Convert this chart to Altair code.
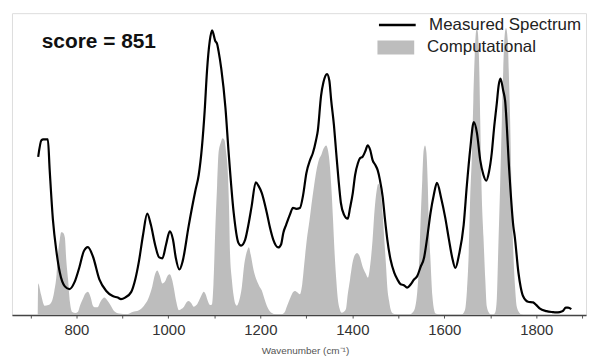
import altair as alt
import pandas as pd

# Measured spectrum (wavenumber, normalized intensity)
meas_wn = [717, 724, 728, 738, 742, 749, 757, 764, 775, 785, 796, 807, 816, 825, 836, 850, 865, 879, 890, 897,
           906, 919, 928, 936, 945, 954, 962, 971, 980, 987, 995, 1003, 1010, 1016, 1024, 1031, 1044, 1059, 1066, 1073,
           1079, 1084, 1090, 1095, 1102, 1106, 1109, 1115, 1124, 1131, 1142, 1152, 1158, 1167, 1174, 1181, 1190, 1196,
           1203, 1214, 1221, 1228, 1239, 1245, 1250, 1256, 1264, 1271, 1278, 1286, 1293, 1300, 1308, 1314, 1321, 1325,
           1332, 1337, 1345, 1350, 1354, 1360, 1365, 1370, 1375, 1382, 1390, 1395, 1401, 1406, 1412, 1417, 1422, 1429,
           1433, 1439, 1444, 1450, 1455, 1460, 1466, 1471, 1476, 1483, 1491, 1498, 1505, 1512, 1519, 1527, 1534, 1541,
           1548, 1556, 1563, 1570, 1577, 1584, 1593, 1602, 1610, 1617, 1624, 1632, 1642, 1649, 1656, 1664, 1671, 1678,
           1685, 1691, 1697, 1703, 1708, 1714, 1718, 1722, 1728, 1732, 1741, 1750, 1753, 1761, 1766, 1771, 1782, 1793,
           1800, 1807, 1822, 1835, 1843, 1851, 1858, 1864, 1869, 1876]
meas_int = [.524, .579, .582, .582, .480, .316, .207, .141, .095, .086, .109, .161, .211, .225, .194, .118, .080, .063, .058, .053,
            .058, .076, .118, .178, .266, .336, .299, .234, .191, .188, .234, .277, .250, .191, .151, .178, .294, .414, .464, .557,
            .678, .809, .908, .943, .908, .898, .875, .816, .688, .539, .339, .240, .230, .250, .299, .360, .440, .428,
            .405, .339, .289, .250, .224, .234, .273, .299, .332, .355, .352, .355, .398, .470, .513, .536, .579, .612,
            .727, .770, .798, .776, .711, .628, .536, .447, .372, .332, .319, .355, .405, .464, .503, .520, .524, .546,
            .562, .546, .513, .497, .480, .447, .391, .316, .250, .184, .141, .118, .102, .099, .091, .102, .118, .129,
            .158, .191, .260, .339, .398, .438, .388, .322, .250, .191, .156, .201, .299, .431, .546, .639, .602, .513,
            .464, .445, .474, .536, .618, .701, .760, .783, .743, .711, .480, .294, .261, .141, .092, .063, .044, .042,
            .033, .022, .013, .010, .009, .010, .014, .025, .025, .020]

# Computational spectrum
comp_wn = [716, 717, 723, 731, 739, 746, 752, 757, 760, 764, 767, 771, 775, 778, 782, 786, 791, 798, 803, 809,
           814, 820, 825, 831, 836, 840, 846, 853, 861, 867, 875, 881, 887, 893, 911, 922, 936, 947, 956, 965,
           971, 976, 981, 987, 993, 999, 1003, 1008, 1012, 1017, 1023, 1028, 1034, 1040, 1044, 1050, 1055, 1061, 1066, 1072,
           1077, 1081, 1086, 1091, 1095, 1098, 1102, 1106, 1109, 1114, 1118, 1122, 1125, 1129, 1132, 1134, 1138, 1142, 1145, 1149,
           1153, 1160, 1165, 1170, 1175, 1179, 1185, 1192, 1198, 1203, 1209, 1214, 1219, 1224, 1234, 1247, 1253, 1258, 1264, 1269,
           1275, 1280, 1286, 1291, 1296, 1301, 1307, 1311, 1317, 1322, 1327, 1333, 1338, 1343, 1347, 1350, 1354, 1358, 1361, 1365,
           1368, 1372, 1377, 1381, 1386, 1390, 1395, 1401, 1406, 1410, 1416, 1422, 1429, 1434, 1439, 1444, 1448, 1453, 1456, 1459,
           1462, 1466, 1469, 1473, 1476, 1480, 1483, 1488, 1498, 1524, 1530, 1536, 1541, 1545, 1548, 1552, 1555, 1558, 1561, 1564,
           1566, 1570, 1574, 1577, 1581, 1589, 1638, 1643, 1646, 1649, 1653, 1656, 1660, 1663, 1666, 1669, 1671, 1673, 1676, 1678,
           1681, 1685, 1689, 1692, 1697, 1701, 1707, 1711, 1714, 1717, 1721, 1725, 1728, 1731, 1734, 1738, 1740, 1743, 1746, 1750,
           1754, 1757, 1763, 1768, 1772]
comp_int = [0, .105, .069, .031, .033, .043, .079, .135, .201, .250, .274, .273, .257, .184, .118, .043, .010, .007, .010, .036,
            .053, .072, .077, .059, .031, .026, .026, .046, .058, .049, .031, .015, .008, .005, .003, .010, .016, .031, .053, .095,
            .135, .148, .132, .105, .112, .132, .135, .118, .089, .046, .016, .020, .028, .043, .047, .039, .028, .033, .046, .066,
            .077, .069, .046, .033, .036, .102, .283, .431, .536, .572, .586, .579, .546, .480, .349, .207, .118, .063, .039, .031,
            .043, .096, .168, .207, .225, .201, .151, .115, .095, .082, .053, .031, .016, .008, .003, .003, .010, .030, .053, .071,
            .080, .076, .069, .102, .178, .250, .316, .365, .431, .480, .513, .533, .553, .562, .546, .513, .431, .316, .217, .118,
            .059, .023, .008, .010, .020, .069, .118, .178, .201, .206, .194, .162, .138, .124, .168, .250, .342, .414, .434, .428,
            .405, .332, .260, .168, .092, .046, .020, .005, .002, .002, .007, .023, .076, .168, .299, .447, .546, .562, .539, .431,
            .316, .178, .063, .023, .005, .002, .002, .010, .026, .079, .207, .382, .536, .711, .859, .941, .951, .934, .809, .645,
            .414, .260, .118, .031, .008, .002, .002, .010, .053, .207, .414, .645, .809, .924, .951, .908, .809, .645, .414, .207,
            .086, .031, .008, .002, 0]

x_ticks = [700, 800, 900, 1000, 1100, 1200, 1300, 1400, 1500, 1600, 1700, 1800, 1900]
score_label = "score = 851"
meas_name = "Measured Spectrum"
comp_name = "Computational"

meas_df = pd.DataFrame({"wn": meas_wn, "val": meas_int, "series": meas_name})
comp_df = pd.DataFrame({"wn": comp_wn, "val": comp_int, "series": comp_name})

FONT = "Liberation Sans"

x_enc = alt.X("wn:Q", scale=alt.Scale(domain=[660, 1908], nice=False, zero=False),
              axis=alt.Axis(values=x_ticks, labelExpr="datum.value % 200 == 0 ? datum.label : ''",
                            title="Wavenumber (cm⁻¹)", titleFont=FONT, titleFontSize=10,
                            titleFontWeight="normal", titleColor="#555555",
                            titleX=295, titleY=36, titleBaseline="middle",
                            labelFont=FONT, labelFontSize=15, labelColor="#333333", labelPadding=5,
                            labelFlush=False, grid=False, tickSize=3, tickColor="#555555",
                            domainColor="#444444", domainWidth=1.5, format="d"))
y_enc = alt.Y("val:Q", scale=alt.Scale(domain=[0, 1], nice=False), axis=None)

area = alt.Chart(comp_df).mark_area(interpolate="monotone", opacity=1).encode(
    x=x_enc, y=y_enc,
    fill=alt.Fill("series:N", scale=alt.Scale(domain=[comp_name], range=["#bdbdbd"]),
                  legend=alt.Legend(title=None, orient="none", legendX=368, legendY=16, padding=0,
                                    symbolType="M-1,-0.38H1V0.38H-1Z", symbolSize=1369,
                                    symbolStrokeWidth=0, labelFont=FONT, labelFontSize=17,
                                    labelColor="#222222", labelOffset=13)),
)

line = alt.Chart(meas_df).mark_line(interpolate="monotone", strokeWidth=2.2).encode(
    x=x_enc, y=y_enc,
    stroke=alt.Stroke("series:N", scale=alt.Scale(domain=[meas_name], range=["#000000"]),
                      legend=alt.Legend(title=None, orient="none", legendX=368, legendY=-8, padding=0,
                                        symbolType="stroke", symbolSize=1369, symbolStrokeWidth=2.5,
                                        labelFont=FONT, labelFontSize=17, labelColor="#222222",
                                        labelOffset=12)),
)

score = alt.Chart(pd.DataFrame({"t": [score_label]})).mark_text(
    font=FONT, fontSize=21, fontWeight="bold", align="left", baseline="alphabetic", color="#111111"
).encode(text="t:N", x=alt.value(30), y=alt.value(35))

chart = alt.layer(area, line, score).resolve_scale(fill="independent", stroke="independent").properties(
    width=578, height=304,
    autosize=alt.AutoSizeParams(type="none"),
    padding={"left": 4, "top": 4, "right": 4, "bottom": 40},
).configure_view(stroke=None).configure(background="white")

chart.save("out.html", embed_options={"renderer": "svg", "actions": False})
